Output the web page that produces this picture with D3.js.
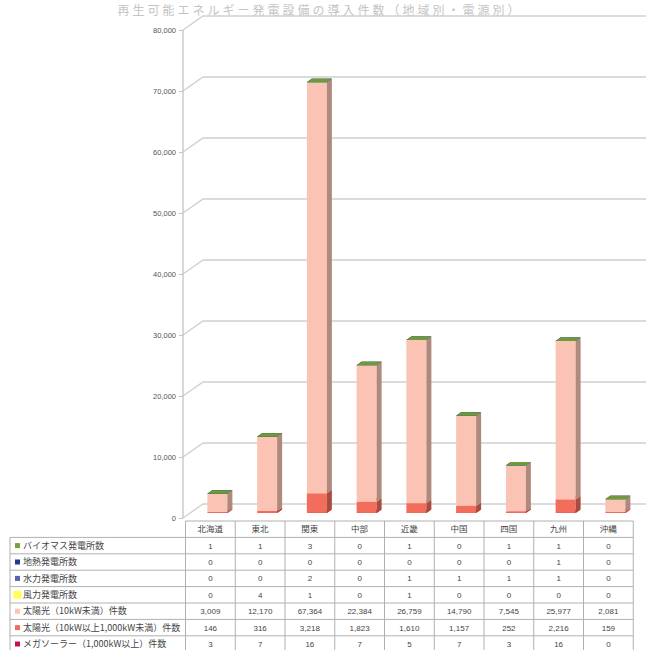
<!DOCTYPE html>
<html>
<head>
<meta charset="utf-8">
<script src="https://cdn.jsdelivr.net/npm/d3@7/dist/d3.min.js"></script>
<style>
  html, body { margin: 0; padding: 0; background: #fff; }
  svg { display: block; }
  text { font-family: "Noto Sans CJK JP", "Noto Sans", sans-serif; }
</style>
</head>
<body>
<svg id="chart" width="646" height="650"></svg>
<script>
// Regions (columns of the data table and bar categories)
const regions = ["北海道", "東北", "関東", "中部", "近畿", "中国", "四国", "九州", "沖縄"];

// Series, in the order the data table lists them (top row first)
const seriesNames = [
  "バイオマス発電所数",
  "地熱発電所数",
  "水力発電所数",
  "風力発電所数",
  "太陽光（10kW未満）件数",
  "太陽光（10kW以上1,000kW未満）件数",
  "メガソーラー（1,000kW以上）件数"
];
const biomass    = [1, 1, 3, 0, 1, 0, 1, 1, 0];
const geothermal = [0, 0, 0, 0, 0, 0, 0, 1, 0];
const hydro      = [0, 0, 2, 0, 1, 1, 1, 1, 0];
const wind       = [0, 4, 1, 0, 1, 0, 0, 0, 0];
const solarSmall = [3009, 12170, 67364, 22384, 26759, 14790, 7545, 25977, 2081];
const solarMid   = [146, 316, 3218, 1823, 1610, 1157, 252, 2216, 159];
const megaSolar  = [3, 7, 16, 7, 5, 7, 3, 16, 0];
const seriesColors = ["#7aa23e", "#1f3a8a", "#5563b3", "#ffff55", "#fbc3b3", "#f26d5b", "#c8124c"];

// Value axis ticks
const yTicks = [0, 10000, 20000, 30000, 40000, 50000, 60000, 70000, 80000];

const seriesValues = [biomass, geothermal, hydro, wind, solarSmall, solarMid, megaSolar];

const svg = d3.select("#chart");

// Layout of the pseudo-3D plot
const axisX = 183;                    // front edge of the value axis
const depthDX = 20, depthDY = -14;    // wall depth offset
const barW = 20, barDX = 5, barDY = -3.5, barShiftX = 7, barShiftY = -5;

const y = d3.scaleLinear().domain([0, 80000]).range([518, 30]);

// Data table geometry
const tableLeft = 10, labelRight = 185.5, tableRight = 633.25;
const tableTop = 521, rowH = 16.4;
const x = d3.scaleBand().domain(regions).range([labelRight, tableRight]).paddingInner(0).paddingOuter(0);

// Chart title along the top edge
svg.append("text")
  .attr("x", 320).attr("y", 15)
  .attr("text-anchor", "middle")
  .attr("font-size", 12).attr("fill", "#c4c4c4")
  .attr("letter-spacing", 3)
  .text("再生可能エネルギー発電設備の導入件数（地域別・電源別）");

// Gridlines: diagonal on the side wall, horizontal on the back wall
const grid = svg.append("g").attr("stroke", "#cfcfcf").attr("stroke-width", 1.3).attr("fill", "none");
yTicks.forEach(t => {
  const yy = y(t);
  grid.append("path")
    .attr("d", `M${axisX},${yy} L${axisX + depthDX},${yy + depthDY} L646,${yy + depthDY}`);
});

// Value axis line and tick marks
svg.append("line")
  .attr("x1", axisX).attr("x2", axisX)
  .attr("y1", y(80000)).attr("y2", y(0))
  .attr("stroke", "#c4c4c4").attr("stroke-width", 1.3);

const yAxis = d3.axisLeft(y)
  .tickValues(yTicks)
  .tickSize(4)
  .tickPadding(3)
  .tickFormat(d3.format(","));
const gy = svg.append("g").attr("transform", `translate(${axisX},0)`).call(yAxis);
gy.select(".domain").remove();
gy.selectAll(".tick line").attr("stroke", "#c4c4c4");
gy.selectAll(".tick text")
  .attr("font-size", 7.5)
  .attr("fill", "#555")
  .style("font-family", "'Liberation Sans', Arial, sans-serif");

// Stacked bars, drawn from the bottom segment up
const rows = regions.map((r, i) => {
  const o = { region: r };
  seriesNames.forEach((s, k) => { o[s] = seriesValues[k][i]; });
  return o;
});
const stackOrder = seriesNames.slice().reverse();   // mega solar at the bottom
const stacked = d3.stack().keys(stackOrder)(rows);
const colorOf = d3.scaleOrdinal().domain(seriesNames).range(seriesColors);

const barsG = svg.append("g");
regions.forEach((r, i) => {
  const bx = x(r) + x.bandwidth() / 2 - barW / 2 + barShiftX;
  const g = barsG.append("g");
  stacked.forEach(layer => {
    const d = layer[i];
    const c = d3.color(colorOf(layer.key));
    const yTopSeg = y(d[1]) + barShiftY;
    const yBot = y(d[0]) + barShiftY;
    const h = Math.max(0, yBot - yTopSeg);
    // front face
    g.append("rect")
      .attr("x", bx).attr("y", yTopSeg)
      .attr("width", barW).attr("height", h)
      .attr("fill", c.formatHex());
    // side face
    g.append("path")
      .attr("d", `M${bx + barW},${yTopSeg} L${bx + barW + barDX},${yTopSeg + barDY} L${bx + barW + barDX},${yBot + barDY} L${bx + barW},${yBot} Z`)
      .attr("fill", d3.color(colorOf(layer.key)).darker(1.0).formatHex());
    // top face
    g.append("path")
      .attr("d", `M${bx},${yTopSeg} L${bx + barDX},${yTopSeg + barDY} L${bx + barW + barDX},${yTopSeg + barDY} L${bx + barW},${yTopSeg} Z`)
      .attr("fill", layer.key === seriesNames[0] ? "#6f9a38" : d3.color(colorOf(layer.key)).brighter(0.2).formatHex());
  });
});

// Data table
const tbl = svg.append("g");
const nRows = seriesNames.length + 1;
const lineColor = "#b0b0b0";

// horizontal lines
for (let k = 0; k <= nRows; k++) {
  const yy = tableTop + k * rowH;
  tbl.append("line")
    .attr("x1", k === 0 ? labelRight : tableLeft).attr("x2", tableRight)
    .attr("y1", yy).attr("y2", yy)
    .attr("stroke", lineColor).attr("stroke-width", 1);
}
// vertical lines
tbl.append("line")
  .attr("x1", tableLeft).attr("x2", tableLeft)
  .attr("y1", tableTop + rowH).attr("y2", tableTop + nRows * rowH)
  .attr("stroke", lineColor);
[labelRight].concat(regions.map(r => x(r) + x.bandwidth())).forEach(xx => {
  tbl.append("line")
    .attr("x1", xx).attr("x2", xx)
    .attr("y1", tableTop).attr("y2", tableTop + nRows * rowH)
    .attr("stroke", lineColor);
});

// header: region names
regions.forEach(r => {
  tbl.append("text")
    .attr("x", x(r) + x.bandwidth() / 2)
    .attr("y", tableTop + rowH / 2 + 3)
    .attr("text-anchor", "middle")
    .attr("font-size", 8.5).attr("fill", "#444")
    .text(r);
});

// body rows: legend key, series name, values
const fmt = d3.format(",");
seriesNames.forEach((s, k) => {
  const cy = tableTop + (k + 1) * rowH + rowH / 2;
  const keySize = k === 3 ? 8 : 5;
  tbl.append("rect")
    .attr("x", 15 - (keySize - 5) / 2).attr("y", cy - keySize / 2)
    .attr("width", keySize).attr("height", keySize)
    .attr("fill", seriesColors[k]);
  tbl.append("text")
    .attr("x", 23).attr("y", cy + 3.2)
    .attr("font-size", 9).attr("fill", "#444")
    .text(s);
  seriesValues[k].forEach((v, i) => {
    tbl.append("text")
      .attr("x", x(regions[i]) + x.bandwidth() / 2)
      .attr("y", cy + 3)
      .attr("text-anchor", "middle")
      .attr("font-size", 8).attr("fill", "#444")
      .style("font-family", "'Liberation Sans', Arial, sans-serif")
      .text(fmt(v));
  });
});
</script>
</body>
</html>
